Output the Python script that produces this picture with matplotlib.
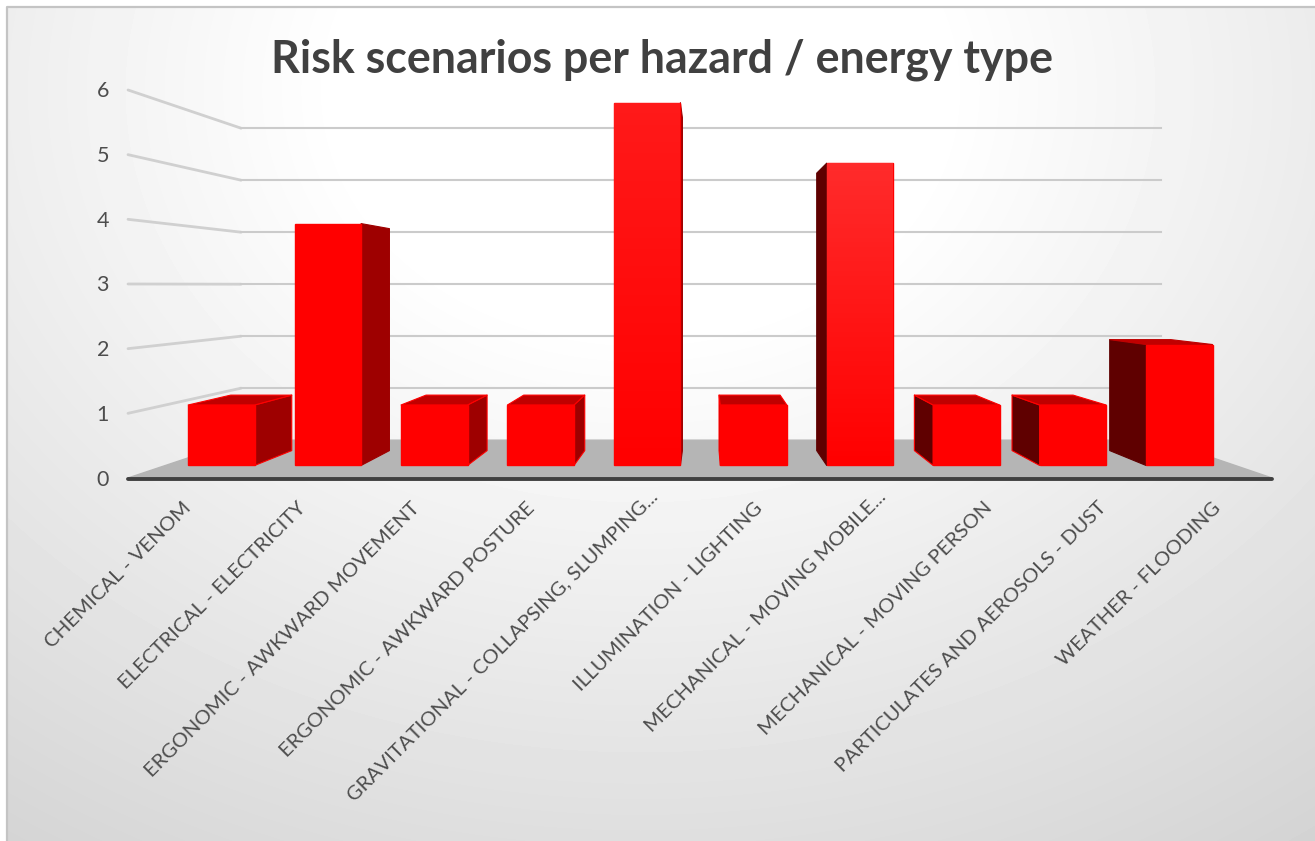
import numpy as np
import matplotlib
matplotlib.use('Agg')
import matplotlib.pyplot as plt
from matplotlib.patches import Polygon

plt.rcParams['font.family'] = ['Lato', 'DejaVu Sans']

categories = [
  'CHEMICAL - VENOM',
  'ELECTRICAL - ELECTRICITY',
  'ERGONOMIC - AWKWARD MOVEMENT',
  'ERGONOMIC - AWKWARD POSTURE',
  'GRAVITATIONAL - COLLAPSING, SLUMPING...',
  'ILLUMINATION - LIGHTING',
  'MECHANICAL - MOVING MOBILE...',
  'MECHANICAL - MOVING PERSON',
  'PARTICULATES AND AEROSOLS - DUST',
  'WEATHER - FLOODING',
]
scenarios = [1, 4, 1, 1, 6, 1, 5, 1, 1, 2]
y_ticks = [0, 1, 2, 3, 4, 5, 6]

# perspective box, in pixels
W, H = 1315, 841
x_left, x_right = 128, 1272
y_zero, unit = 478, 64.67
vp_x, vp_y = 705, 285
back_scale = 0.804
bar_front, bar_back = 0.935, 0.858
bar_squeeze = 0.995
bar_width = 0.625

def project(cat, value, scale, squeeze=1.0):
  x = x_left + cat * (x_right - x_left) / len(categories)
  y = y_zero - value * unit
  return (vp_x + (x - vp_x) * scale * squeeze, vp_y + (y - vp_y) * scale)

def quad(ax, pts, color, edge=None, lw=1.0, z=3):
  ax.add_patch(Polygon(pts, closed=True, facecolor=color, edgecolor=edge or color, linewidth=lw, zorder=z, joinstyle='round'))

fig = plt.figure(figsize=(W / 100, H / 100), dpi=100)
ax = fig.add_axes([0, 0, 1, 1])
ax.set_xlim(0, W)
ax.set_ylim(H, 0)
ax.axis('off')

# chart area background, radial fade from the top middle
yy, xx = np.mgrid[0:H, 0:W]
r = np.hypot((xx - 640) / 1000, (yy - 90) / 800)
shade = np.clip(1 - 0.2 * np.clip(r - 0.3, 0, None), 0.80, 1)
ax.imshow(shade, cmap='gray', vmin=0, vmax=1, extent=(0, W, H, 0), zorder=0, aspect='auto', interpolation='bilinear')
frame_x = [7, 7, W + 5, W + 5, 7]
frame_y = [H + 5, 7, 7, H + 5, H + 5]
ax.fill([0, W, W, 0], [0, 0, 7, 7], color='white', zorder=1, lw=0)
ax.fill([0, 7, 7, 0], [0, 0, H, H], color='white', zorder=1, lw=0)
ax.plot(frame_x, frame_y, color='#c4c4c4', lw=1.6, zorder=1)
ax.set_xlim(0, W)
ax.set_ylim(H, 0)

# floor
quad(ax, [project(0, 0, 1), project(10, 0, 1), project(10, 0, back_scale), project(0, 0, back_scale)], '#b5b5b5', z=1.5)

# gridlines on the side wall and back wall
for t in y_ticks[1:]:
  p0 = project(0, t, 1)
  p1 = project(0, t, back_scale)
  p2 = project(10, t, back_scale)
  ax.plot([p0[0], p1[0]], [p0[1], p1[1]], color='#d0d0d0', lw=2.0, zorder=2, solid_capstyle='round')
  ax.plot([p1[0], p2[0]], [p1[1], p2[1]], color='#cbcbcb', lw=1.5, zorder=2)

# axis line along the front edge
p0 = project(0, 0, 1)
p1 = project(10, 0, 1)
ax.plot([p0[0], p1[0]], [p0[1] + 0.5, p1[1] + 0.5], color='#404040', lw=2.8, zorder=6, solid_capstyle='round')

# bars
gap = (1 - bar_width) / 2
for i, v in enumerate(scenarios):
  a, b = i + gap, i + 1 - gap
  fa0, fb0 = project(a, 0, bar_front, bar_squeeze), project(b, 0, bar_front, bar_squeeze)
  fa1, fb1 = project(a, v, bar_front, bar_squeeze), project(b, v, bar_front, bar_squeeze)
  ba0, bb0 = project(a, 0, bar_back, bar_squeeze), project(b, 0, bar_back, bar_squeeze)
  ba1, bb1 = project(a, v, bar_back, bar_squeeze), project(b, v, bar_back, bar_squeeze)
  # only the side turned towards the vanishing point can be seen
  if fb0[0] < vp_x:
    quad(ax, [fb0, fb1, bb1, bb0], '#9e0000', '#ff0000' if v == 1 else '#9e0000', lw=0.8)
  else:
    quad(ax, [fa0, fa1, ba1, ba0], '#5f0000', '#ff0000' if v == 1 else '#5f0000', lw=0.8)
  # tops above eye level are hidden behind the front face
  if fa1[1] > ba1[1]:
    quad(ax, [fa1, fb1, bb1, ba1], '#c00000', '#ff0000' if v == 1 else '#c00000', lw=0.8)
  poly = Polygon([fa0, fb0, fb1, fa1], closed=True, facecolor='#ff0000', edgecolor='#ff0000', linewidth=1.0, zorder=4)
  ax.add_patch(poly)
  if v >= 5:
    # tall bars pick up a soft highlight towards the top
    top = 0.10 if v == 6 else 0.17
    grad = np.zeros((64, 2, 4))
    grad[..., 0] = 1
    grad[..., 1] = np.linspace(top, 0, 64)[:, None]
    grad[..., 2] = np.linspace(top, 0, 64)[:, None]
    grad[..., 3] = 1
    im = ax.imshow(grad, extent=(fa0[0], fb0[0], fa0[1], fa1[1]), zorder=4.5, aspect='auto', origin='upper')
    im.set_clip_path(poly)

ax.set_xlim(0, W)
ax.set_ylim(H, 0)

# value labels
for t in y_ticks:
  p = project(0, t, 1)
  ax.text(p[0] - 19, p[1] + 1.5, str(t), ha='right', va='center', fontsize=15.5, color='#4d4d4d', zorder=7)

# category labels, the cut-off ones sit a little further along the slant
for i, label in enumerate(categories):
  p = project(i + 0.5, 0, 1)
  dx, dy = (9, -11) if label.endswith('...') else (0, 0)
  ax.text(p[0] - 3 + dx, p[1] + 21 + dy, label, rotation=45, ha='right', va='top', rotation_mode='anchor',
          fontsize=14.7, color='#4d4d4d', zorder=7)

ax.text(662.5, 60, 'Risk scenarios per hazard / energy type', ha='center', va='center', fontsize=32.2,
        fontweight='bold', color='#404040', zorder=7)

fig.savefig('out.png', dpi=100)
